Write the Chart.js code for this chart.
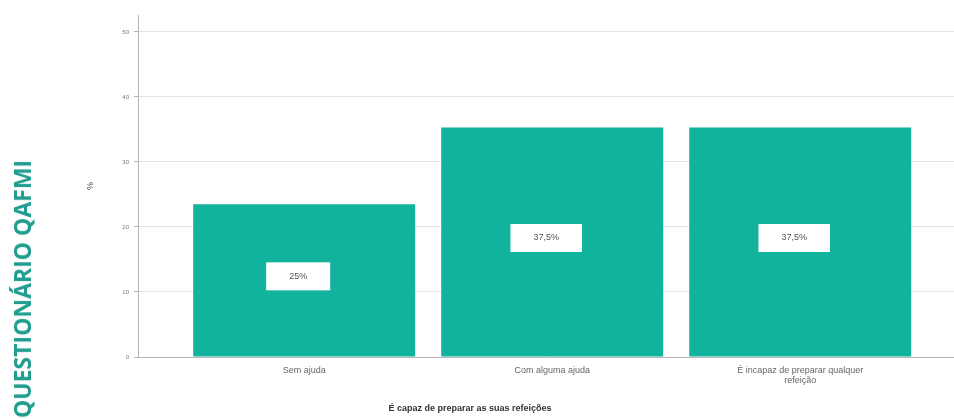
<!DOCTYPE html>
<html>
<head>
<meta charset="utf-8">
<script src="https://cdn.jsdelivr.net/npm/chart.js@4"></script>
<style>
  html, body { margin: 0; padding: 0; background: #fff; }
  #wrap { position: relative; width: 954px; height: 419px; overflow: hidden; }
  #side {
    position: absolute; left: 22px; top: 289px;
    transform: translate(-50%, -50%) rotate(-90deg);
    white-space: nowrap;
    font-family: "Open Sans", sans-serif; font-weight: 700; font-size: 23px;
    color: #1f9d8e;
  }
</style>
</head>
<body>
<div id="wrap">
  <canvas id="chartCanvas" width="954" height="419"></canvas>
  <div id="side">QUESTIONÁRIO QAFMI</div>
</div>
<script>
// categories on the x axis (last one wraps onto two lines)
const categories = ['Sem ajuda', 'Com alguma ajuda', ['É incapaz de preparar qualquer', 'refeição']];
// bar heights as drawn in the picture (%)
const values = [23.5, 35.3, 35.3];
// text printed inside each bar
const barLabels = ['25%', '37,5%', '37,5%'];
// y axis tick values
const yTicks = [0, 10, 20, 30, 40, 50];

const xTitle = 'É capaz de preparar as suas refeições';

// white boxes with the percentage, in the middle of each bar
const barLabelPlugin = {
  id: 'barLabels',
  afterDatasetsDraw(chart) {
    const ctx = chart.ctx;
    const meta = chart.getDatasetMeta(0);
    ctx.save();
    ctx.font = '9px "Liberation Sans", sans-serif';
    ctx.textAlign = 'center';
    ctx.textBaseline = 'middle';
    meta.data.forEach((bar, i) => {
      const cy = (bar.y + bar.base) / 2;
      const w = ctx.measureText(barLabels[i]).width + 46;
      const h = 28;
      ctx.fillStyle = '#fff';
      ctx.fillRect(bar.x - w / 2 - 6, cy - h / 2 - 4, w, h);
      ctx.fillStyle = '#555';
      ctx.fillText(barLabels[i], bar.x - 6, cy - 4);
    });
    ctx.restore();
  }
};

// x axis title, sits left of the plot centre like in the source
const xTitlePlugin = {
  id: 'xTitle',
  afterDraw(chart) {
    const ctx = chart.ctx;
    ctx.save();
    ctx.font = 'bold 9px "Liberation Sans", sans-serif';
    ctx.fillStyle = '#333';
    ctx.textAlign = 'center';
    ctx.textBaseline = 'middle';
    ctx.fillText(xTitle, 470, 409);
    ctx.restore();
  }
};

const ctx = document.getElementById('chartCanvas').getContext('2d');
const chart = new Chart(ctx, {
  type: 'bar',
  data: {
    datasets: [{
      label: '%',
      data: values.map((v, i) => ({ x: i, y: v })),
      backgroundColor: '#12b39c',
      borderWidth: 0,
      categoryPercentage: 1,
      barPercentage: 0.895
    }]
  },
  options: {
    responsive: false,
    animation: false,
    layout: { padding: { left: 85, top: 15, right: 0, bottom: 0 } },
    plugins: {
      legend: { display: false },
      tooltip: { enabled: false }
    },
    scales: {
      x: {
        type: 'linear',
        offset: false,
        min: -0.67,
        max: 2.62,
        afterBuildTicks: axis => { axis.ticks = categories.map((c, i) => ({ value: i })); },
        afterFit: scale => { scale.height = 62; },
        grid: { display: false },
        border: { display: true, color: '#b5b5b5', width: 1 },
        ticks: {
          autoSkip: false,
          maxRotation: 0,
          padding: 1,
          color: '#666',
          font: { family: '"Liberation Sans", sans-serif', size: 9, lineHeight: 1.1 },
          callback: (v, i) => categories[i]
        }
      },
      y: {
        min: 0,
        max: 52.6,
        afterBuildTicks: axis => { axis.ticks = yTicks.map(v => ({ value: v })); },
        afterFit: scale => { scale.width = 53; },
        grid: { color: '#e4e4e4', tickLength: 4, tickColor: '#b5b5b5' },
        border: { display: true, color: '#b5b5b5', width: 1 },
        ticks: {
          padding: 5,
          color: '#777',
          font: { family: '"Liberation Sans", sans-serif', size: 6 }
        },
        title: {
          display: true,
          text: '%',
          color: '#444',
          padding: { top: 0, bottom: 8 },
          font: { family: '"Liberation Sans", sans-serif', size: 9 }
        }
      }
    }
  },
  plugins: [barLabelPlugin, xTitlePlugin]
});
</script>
</body>
</html>
